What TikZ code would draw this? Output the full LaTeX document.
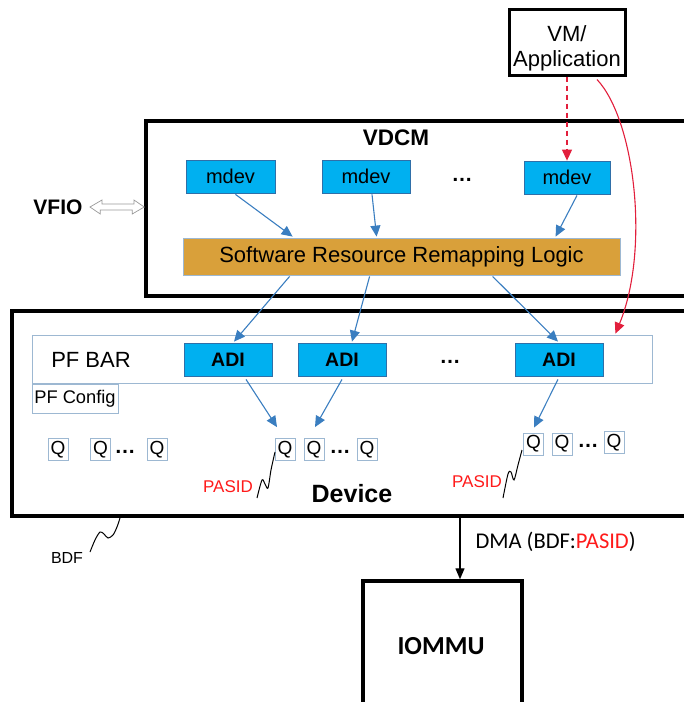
\documentclass[tikz,border=0pt]{standalone}
\usepackage{fontspec}
\setmainfont{Liberation Sans}
\newfontfamily\calib{Carlito}
\usetikzlibrary{arrows.meta,calc}
\definecolor{cyanC}{HTML}{00B0F0}
\definecolor{cyanB}{HTML}{2F6FA8}
\definecolor{arrowB}{HTML}{3A7EC0}
\definecolor{orangeC}{HTML}{D9A03A}
\definecolor{paleB}{HTML}{9DB8D2}
\definecolor{redA}{HTML}{E21F3C}
\definecolor{redT}{HTML}{FF1A1A}
\newcommand{\fs}[1]{\fontsize{#1}{#1}\selectfont}
\tikzset{
  bigbox/.style={draw=black, line width=3.5pt, fill=none, inner sep=0pt},
  cyanbox/.style={draw=cyanB, fill=cyanC, line width=0.8pt, inner sep=0pt, minimum height=33pt},
  mdevbox/.style={cyanbox, font=\fs{20}},
  adibox/.style={cyanbox, minimum width=88pt, font=\bfseries\fs{19.5}},
  qbox/.style={draw=paleB, line width=0.8pt, inner sep=0pt, minimum width=20pt, minimum height=22pt, font=\fs{19}},
  palebox/.style={draw=paleB, line width=0.8pt, inner sep=0pt},
  bluearrow/.style={draw=arrowB, line width=1.1pt, -{Triangle[length=11pt,width=10pt]}},
  redarrow/.style={draw=redA, line width=1.1pt, -{Triangle[length=11pt,width=10pt]}},
  squig/.style={draw=black, line width=1pt, smooth},
  dots/.style={font=\bfseries\fs{21}, inner sep=0pt},
}
\begin{document}
\begin{tikzpicture}[x=1pt,y=-1pt]
\useasboundingbox (0,0) rectangle (684,702);
% VM / Application
\node[draw=black, line width=3pt, minimum width=116pt, minimum height=66pt, inner sep=0pt] (vm) at (567,42) {};
\node[align=center, font=\fs{22}, inner sep=0pt] (vmt) at (567,48) {VM/\\[3pt]Application};
% VDCM
\node[bigbox, minimum width=554pt, minimum height=175pt] (vdcm) at (423,208.5) {};
\node[font=\bfseries\fs{22.5}] (vdcmt) at (396,138) {VDCM};
\node[mdevbox, minimum width=89pt] (mdev1) at (230.5,176.5) {mdev};
\node[mdevbox, minimum width=88pt] (mdev2) at (366,176.5) {mdev};
\node[mdevbox, minimum width=86pt] (mdev3) at (567,177.5) {mdev};
\node[dots] (dots1) at (462,180) {\ldots};
\node[draw=paleB, fill=orangeC, line width=0.8pt, inner sep=0pt, minimum width=437pt, minimum height=37pt, font=\fs{22}] (srrl) at (401.5,256.5) {Software Resource Remapping Logic};
% VFIO
\node[font=\bfseries\fs{21}, anchor=east] (vfio) at (86,207) {VFIO};
\draw[draw=gray!80, line width=0.7pt, fill=white]
  ($(vfio.east)+(4,0)$) -- ++(12,-7) -- ++(0,4) -- ++(32,0) -- ++(0,-4) -- ($(vdcm.west)+(0,-1.5)$)
  -- ++(-12,7) -- ++(0,-4) -- ++(-32,0) -- ++(0,4) -- cycle;
% Device
\node[bigbox, minimum width=690pt, minimum height=205pt] (dev) at (357,413.5) {};
\node[palebox, minimum width=620pt, minimum height=48pt] (pfbar) at (342,359) {};
\node[font=\fs{22}] (pfbart) at (91,360) {PF BAR};
\node[adibox] (adi1) at (228,359.5) {ADI};
\node[adibox] (adi2) at (342,359.5) {ADI};
\node[adibox] (adi3) at (559,359.5) {ADI};
\node[dots] (dots2) at (450,362) {\ldots};
\node[palebox, minimum width=86pt, minimum height=29pt, font=\fs{18.3}] (pfcfg) at (75,398.5) {PF Config};
% Q boxes
\node[qbox] (ql1) at (58,449.5) {Q};
\node[qbox] (ql2) at (100.5,449.5) {Q};
\node[dots] (dotsl) at (125,452) {\ldots};
\node[qbox] (ql3) at (157,449.5) {Q};
\node[qbox] (qm1) at (285,449.5) {Q};
\node[qbox] (qm2) at (314,449.5) {Q};
\node[dots] (dotsm) at (340,452) {\ldots};
\node[qbox] (qm3) at (367,449.5) {Q};
\node[qbox] (qr1) at (533.5,444) {Q};
\node[qbox] (qr2) at (562,444) {Q};
\node[dots] (dotsr) at (588,446) {\ldots};
\node[qbox] (qr3) at (614,442.5) {Q};
% PASID labels and squiggles
\node[text=redT, font=\fs{17}] (pasid1) at (228,487) {PASID};
\node[text=redT, font=\fs{17}] (pasid2) at (477,482) {PASID};
\draw[squig] plot coordinates {(257,498) (262,480) (265,484) (268,488) (271,470) (275,452)};
\draw[squig] plot coordinates {(503,498) (508,474) (511,472) (514,480) (518,465) (522,450)};
\node[font=\bfseries\fs{25}] (devt) at (352,494) {Device};
% BDF
\node[font=\fs{16}] (bdf) at (67,558) {BDF};
\draw[squig] plot coordinates {(90,552) (95,540) (100,532) (104,534) (108,538) (113,535) (117,527) (120,518)};
% IOMMU
\node[draw=black, line width=3.5pt, minimum width=159pt, minimum height=140pt, inner sep=0pt] (iommu) at (442.5,651) {};
\node[font=\calib\bfseries\fs{26}] (iommut) at (441,646) {IOMMU};
\draw[line width=1.4pt, -{Triangle[length=11pt,width=9pt]}] (dev.south -| 460,0) -- (iommu.north -| 460,0);
\node[font=\calib\fs{22.5}, anchor=west] (dma) at (472,542) {DMA (BDF:\textcolor{redT}{PASID})};
% blue arrows
\draw[bluearrow] ($(mdev1.south)+(5,1)$) -- ($(srrl.north west)+(110,-1)$);
\draw[bluearrow] ($(mdev2.south)+(6,1)$) -- ($(srrl.north west)+(194,-1)$);
\draw[bluearrow] ($(mdev3.south)+(10,1)$) -- ($(srrl.north west)+(373,-1)$);
\draw[bluearrow] ($(srrl.south west)+(107,1)$) -- ($(adi1.north)+(6,-1)$);
\draw[bluearrow] ($(srrl.south west)+(187,1)$) -- ($(adi2.north)+(10,-1)$);
\draw[bluearrow] ($(srrl.south west)+(310,1)$) -- ($(adi3.north)+(-1,-1)$);
\draw[bluearrow] ($(adi1.south)+(18,3)$) -- ($(qm1.north)+(-8,-11)$);
\draw[bluearrow] ($(adi2.south)+(0,3)$) -- ($(qm2.north)+(1,-11)$);
\draw[bluearrow] ($(adi3.south)+(-1,3)$) -- ($(qr1.north)+(0.5,-5)$);
% red arrows
\draw[redarrow, dashed, dash pattern=on 5pt off 4pt] (vm.south) -- (mdev3.north);
\draw[redarrow] ($(vm.south)+(30,3)$) .. controls (635,120) and (650,250) .. ($(pfbar.north east)+(-37,-1)$);
\end{tikzpicture}
\end{document}
